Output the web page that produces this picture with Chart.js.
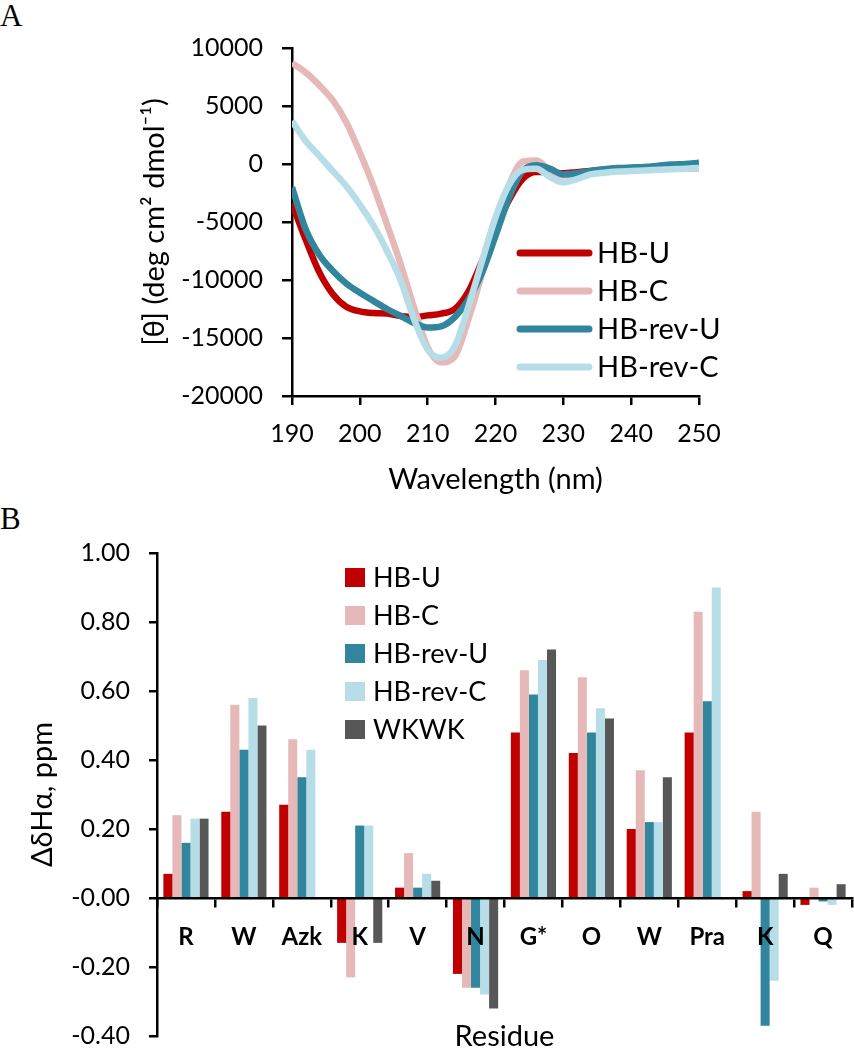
<!DOCTYPE html>
<html lang="en">
<head>
  <meta charset="UTF-8" />
  <title>CD spectra and chemical shift deviations</title>
  <script src="https://cdn.jsdelivr.net/npm/chart.js"></script>
  <style>
    body {
      margin: 0;
      padding: 0;
      width: 854px;
      height: 1050px;
      overflow: hidden;
      background: #fff;
      position: relative;
    }

    .panel-label {
      position: absolute;
      left: 0;
      font-family: "Liberation Serif", serif;
      font-size: 31px;
      line-height: 1;
      color: #000;
    }

    canvas {
      position: absolute;
      left: 0;
    }

    #cdChart { top: 0; }
    #shiftChart { top: 500px; }
  </style>
</head>
<body>
  <div class="panel-label" style="top: 0px;">A</div>
  <div class="panel-label" style="top: 503px;">B</div>

  <canvas id="cdChart" width="854" height="500" style="width:854px;height:500px;"></canvas>
  <canvas id="shiftChart" width="854" height="570" style="width:854px;height:570px;"></canvas>

  <script>
    // ---- panel A: CD spectra (mean residue ellipticity) ----
    const wavelength = [190, 192, 194, 196, 198, 200, 202, 204, 206, 208, 210,
                        212, 214, 216, 218, 220, 222, 224, 226, 228, 230,
                        232, 234, 236, 238, 240, 242, 244, 246, 248, 250];

    const cdHbU = [-3400, -6500, -9300, -11200, -12300, -12700, -12850, -12900, -13100, -13200, -13050,
                   -12900, -12500, -11000, -8400, -5600, -3100, -1300, -700, -700, -800,
                   -700, -600, -500, -450, -400, -350, -300, -250, -200, -200];
    const cdHbC = [8700, 7900, 6800, 5500, 3600, 1000, -1900, -5200, -8600, -12400, -15800,
                   -17100, -16600, -13400, -9500, -5200, -1800, 200, 300, -500, -1000,
                   -900, -700, -500, -450, -400, -400, -400, -400, -400, -400];
    const cdHbRevU = [-2000, -5600, -7800, -9200, -10300, -11100, -11800, -12500, -13100, -13700, -14100,
                      -14000, -13200, -11700, -9400, -6200, -2900, -600, -100, -400, -900,
                      -800, -600, -450, -350, -300, -250, -150, -50, 0, 100];
    const cdHbRevC = [3700, 2000, 700, -600, -1900, -3500, -5300, -7500, -10000, -13400, -16000,
                      -16700, -15700, -12300, -8400, -4600, -1800, -500, -400, -1100, -1600,
                      -1300, -900, -750, -650, -600, -550, -500, -450, -400, -350];

    const cdNames = ['HB-U', 'HB-C', 'HB-rev-U', 'HB-rev-C'];
    const cdColors = ['#c00000', '#e6b9b8', '#31859c', '#b7dee8'];
    const cdTicksY = [-20000, 10000, 5000];   // min, max, step
    const cdTicksX = [190, 250, 10];

    // ---- panel B: H-alpha chemical shift deviations ----
    const residues = ['R', 'W', 'Azk', 'K', 'V', 'N', 'G*', 'O', 'W', 'Pra', 'K', 'Q'];

    const shiftHbU    = [0.07, 0.25, 0.27, -0.13, 0.03, -0.22, 0.48, 0.42, 0.20, 0.48, 0.02, -0.02];
    const shiftHbC    = [0.24, 0.56, 0.46, -0.23, 0.13, -0.26, 0.66, 0.64, 0.37, 0.83, 0.25, 0.03];
    const shiftHbRevU = [0.16, 0.43, 0.35, 0.21, 0.03, -0.26, 0.59, 0.48, 0.22, 0.57, -0.37, -0.01];
    const shiftHbRevC = [0.23, 0.58, 0.43, 0.21, 0.07, -0.28, 0.69, 0.55, 0.22, 0.90, -0.24, -0.02];
    const shiftWkwk   = [0.23, 0.50, null, -0.13, 0.05, -0.32, 0.72, 0.52, 0.35, null, 0.07, 0.04];

    const shiftNames = ['HB-U', 'HB-C', 'HB-rev-U', 'HB-rev-C', 'WKWK'];
    const shiftColors = ['#c00000', '#e6b9b8', '#31859c', '#b7dee8', '#575757'];
    const shiftTicksY = [-0.4, 1.0, 0.2];

    Chart.defaults.font.family = 'Lato, "Open Sans", sans-serif';
    Chart.defaults.color = '#000';

    // legend drawn inside the plot, like the original figure
    const cdLegend = {
      id: 'cdLegend',
      afterDraw(chart) {
        const ctx = chart.ctx;
        ctx.save();
        ctx.font = '29px Lato';
        ctx.textBaseline = 'middle';
        ctx.fillStyle = '#000';
        cdNames.forEach((name, i) => {
          const y = 253 + i * 38;
          ctx.strokeStyle = cdColors[i];
          ctx.lineWidth = 7;
          ctx.lineCap = 'round';
          ctx.beginPath();
          ctx.moveTo(520, y);
          ctx.lineTo(589, y);
          ctx.stroke();
          ctx.fillText(name, 597, y + 1);
        });
        ctx.restore();
      }
    };

    const shiftLegend = {
      id: 'shiftLegend',
      afterDraw(chart) {
        const ctx = chart.ctx;
        ctx.save();
        ctx.font = '27px Lato';
        ctx.textBaseline = 'middle';
        shiftNames.forEach((name, i) => {
          const y = 77 + i * 38;
          ctx.fillStyle = shiftColors[i];
          ctx.fillRect(345, y - 9, 20, 19);
          ctx.fillStyle = '#000';
          ctx.fillText(name, 373, y + 1);
        });
        ctx.restore();
      }
    };

    const cdData = [cdHbU, cdHbC, cdHbRevU, cdHbRevC];

    new Chart(document.getElementById('cdChart'), {
      type: 'line',
      data: {
        datasets: cdData.map((vals, i) => ({
          label: cdNames[i],
          data: wavelength.map((w, j) => ({ x: w, y: vals[j] })),
          borderColor: cdColors[i],
          backgroundColor: cdColors[i],
          borderWidth: 6.5,
          pointRadius: 0,
          cubicInterpolationMode: 'monotone',
          order: cdNames.length - i
        }))
      },
      options: {
        responsive: false,
        animation: false,
        layout: { padding: { left: 133, top: 48, right: 155, bottom: 0 } },
        plugins: {
          legend: { display: false },
          tooltip: { enabled: false }
        },
        scales: {
          x: {
            type: 'linear',
            min: cdTicksX[0],
            max: cdTicksX[1],
            afterFit: (scale) => { scale.height = 104; },
            ticks: {
              stepSize: cdTicksX[2],
              padding: 14,
              font: { size: 25 },
              callback: (v) => String(v)
            },
            grid: {
              drawOnChartArea: false,
              tickLength: 9,
              color: '#000',
              lineWidth: 2.5
            },
            border: { display: true, color: '#000', width: 2.5 },
            title: {
              display: true,
              text: 'Wavelength (nm)',
              font: { size: 29 },
              padding: { top: 0, bottom: 3 }
            }
          },
          y: {
            min: cdTicksY[0],
            max: cdTicksY[1],
            afterFit: (scale) => { scale.width = 159; },
            ticks: {
              stepSize: cdTicksY[2],
              padding: 19,
              font: { size: 25 },
              callback: (v) => String(v)
            },
            grid: {
              drawOnChartArea: false,
              tickLength: 10,
              color: '#000',
              lineWidth: 2.5
            },
            border: { display: true, color: '#000', width: 2.5 },
            title: {
              display: true,
              text: '[θ] (deg cm² dmol⁻¹)',
              font: { size: 29 },
              padding: { top: 4, bottom: 0 }
            }
          }
        }
      },
      plugins: [cdLegend]
    });

    const shiftData = [shiftHbU, shiftHbC, shiftHbRevU, shiftHbRevC, shiftWkwk];

    new Chart(document.getElementById('shiftChart'), {
      type: 'bar',
      data: {
        labels: residues,
        datasets: shiftData.map((vals, i) => ({
          label: shiftNames[i],
          data: vals,
          backgroundColor: shiftColors[i],
          borderWidth: 0
        }))
      },
      options: {
        responsive: false,
        animation: false,
        layout: { padding: { left: 21, top: 53, right: 2, bottom: 28 } },
        datasets: {
          bar: { categoryPercentage: 0.78, barPercentage: 1.0 }
        },
        plugins: {
          legend: { display: false },
          tooltip: { enabled: false }
        },
        scales: {
          x: {
            type: 'category',
            position: { y: 0 },
            afterFit: (scale) => { scale.height = 156; },
            ticks: {
              z: 1,   // residue labels sit on top of the bars
              padding: 17,
              font: { size: 24, weight: 'bold' }
            },
            grid: {
              z: 1,
              offset: true,
              drawOnChartArea: false,
              tickLength: 8,
              color: '#000',
              lineWidth: 2.5
            },
            border: { z: 1, display: true, color: '#000', width: 2.5 },
            title: {
              display: true,
              text: 'Residue',
              font: { size: 29 },
              padding: { top: 0, bottom: 0 }
            }
          },
          y: {
            min: shiftTicksY[0],
            max: shiftTicksY[1],
            afterFit: (scale) => { scale.width = 136; },
            ticks: {
              stepSize: shiftTicksY[2],
              padding: 19,
              font: { size: 25 },
              callback: (v) => Number(v).toFixed(2)
            },
            grid: {
              drawOnChartArea: false,
              tickLength: 8,
              color: '#000',
              lineWidth: 2.5
            },
            border: { display: true, color: '#000', width: 2.5 },
            title: {
              display: true,
              text: 'ΔδHα, ppm',
              font: { size: 29 },
              padding: { top: 4, bottom: 0 }
            }
          }
        }
      },
      plugins: [shiftLegend]
    });
  </script>
</body>
</html>
